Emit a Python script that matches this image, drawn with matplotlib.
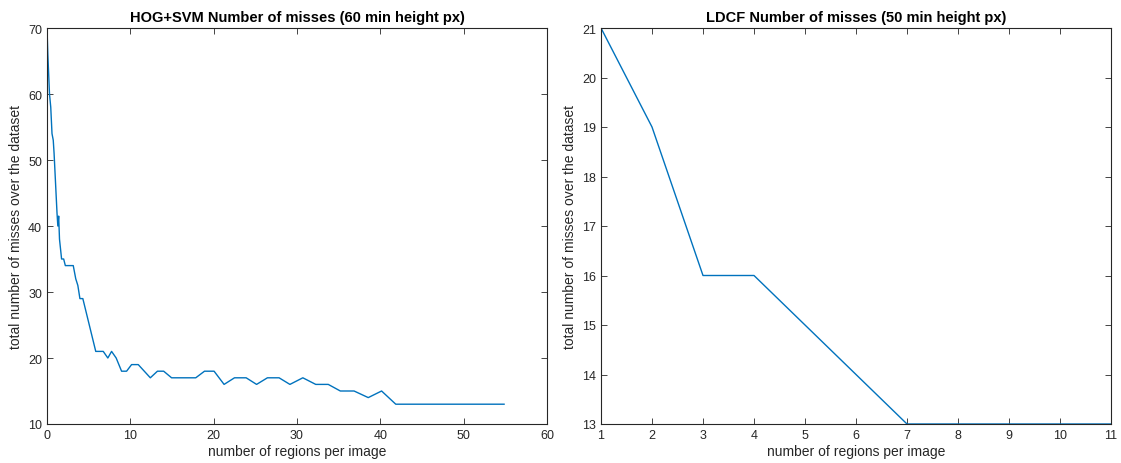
import numpy as np
import matplotlib.pyplot as plt

plt.rcParams['font.family'] = ['Liberation Sans', 'DejaVu Sans']

# HOG+SVM curve
hog_x = [0, 0.1, 0.3, 0.45, 0.6, 0.75, 0.85, 1.2, 1.3, 1.4, 1.5, 1.75, 2.0, 2.2,
         3.15, 3.45, 3.7, 3.95, 4.3, 5.85, 6.75, 7.3, 7.75, 8.3, 8.95, 9.55,
         10.15, 10.95, 12.4, 13.25, 14.0, 14.95, 17.85, 18.9, 20.05, 21.25,
         22.5, 23.9, 25.15, 26.45, 27.85, 29.15, 30.7, 32.25, 33.75, 35.2,
         36.85, 38.55, 40.15, 41.85, 54.85]
hog_y = [70, 66, 60, 58, 54, 53, 51, 42, 40, 41.5, 38, 35, 35, 34,
         34, 32, 31, 29, 29, 21, 21, 20, 21, 20, 18, 18,
         19, 19, 17, 18, 18, 17, 17, 18, 18, 16,
         17, 17, 16, 17, 17, 16, 17, 16, 16, 15,
         15, 14, 15, 13, 13]

# LDCF curve
ldcf_x = [1, 2, 3, 4, 5, 6, 7, 8, 9, 10, 11]
ldcf_y = [21, 19, 16, 16, 15, 14, 13, 13, 13, 13, 13]

line_color = '#0072BD'
W, H = 1121, 464
fig = plt.figure(figsize=(W / 100, H / 100), dpi=100)

ax1 = fig.add_axes([47 / W, (H - 425) / H, 500 / W, 396 / H])
ax2 = fig.add_axes([601 / W, (H - 425) / H, 510 / W, 396 / H])


def style(ax):
    ax.tick_params(direction='in', top=True, right=True, labelsize=9,
                   color='#262626', labelcolor='#262626', length=4, width=0.6)
    for s in ax.spines.values():
        s.set_color('#262626')
        s.set_linewidth(0.8)
    ax.set_xlabel('number of regions per image', fontsize=10, color='#262626', labelpad=2)
    ax.set_ylabel('total number of misses over the dataset', fontsize=10,
                  color='#262626', labelpad=4)


ax1.plot(hog_x, hog_y, color=line_color, linewidth=1)
ax1.set_xlim(0, 60)
ax1.set_ylim(10, 70)
ax1.set_xticks(np.arange(0, 61, 10))
ax1.set_yticks(np.arange(10, 71, 10))
ax1.set_title('HOG+SVM Number of misses (60 min height px)', fontsize=10.5,
              fontweight='bold', pad=5)
style(ax1)

ax2.plot(ldcf_x, ldcf_y, color=line_color, linewidth=1)
ax2.set_xlim(1, 11)
ax2.set_ylim(13, 21)
ax2.set_xticks(np.arange(1, 12, 1))
ax2.set_yticks(np.arange(13, 22, 1))
ax2.set_title('LDCF Number of misses (50 min height px)', fontsize=10.5,
              fontweight='bold', pad=5)
style(ax2)

fig.savefig('out.png', dpi=100)
